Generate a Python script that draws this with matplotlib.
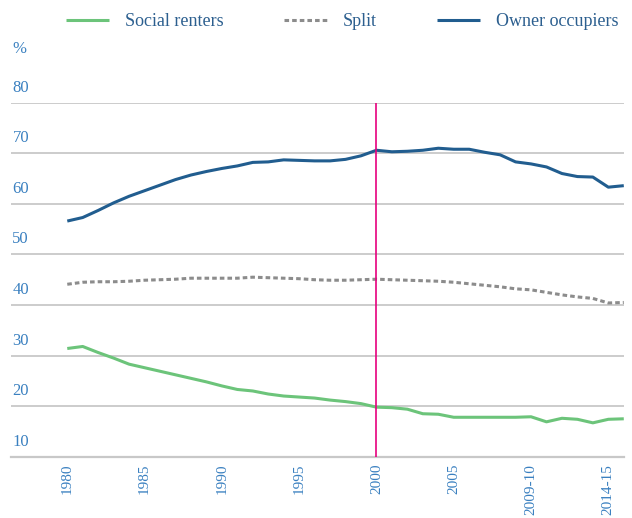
import matplotlib
matplotlib.use("Agg")
import matplotlib.pyplot as plt

# category labels along the x axis (one per survey year)
years = ["1980", "1981", "1982", "1983", "1984", "1985", "1986", "1987",
         "1988", "1989", "1990", "1991", "1992", "1993", "1994", "1995",
         "1996", "1997", "1998", "1999", "2000", "2001", "2002", "2003",
         "2004", "2005", "2006", "2007", "2008", "2008-09", "2009-10",
         "2010-11", "2011-12", "2012-13", "2013-14", "2014-15", "2015-16"]

social_renters = [31.4, 31.8, 30.6, 29.5, 28.3, 27.6, 26.9, 26.2, 25.5, 24.8,
                  24.0, 23.3, 23.0, 22.4, 22.0, 21.8, 21.6, 21.2, 20.9, 20.5,
                  19.8, 19.7, 19.4, 18.5, 18.4, 17.8, 17.8, 17.8, 17.8, 17.8,
                  17.9, 16.9, 17.6, 17.4, 16.7, 17.4, 17.5]
split = [44.1, 44.5, 44.6, 44.6, 44.7, 44.9, 45.0, 45.1, 45.3, 45.3,
         45.3, 45.3, 45.5, 45.4, 45.3, 45.2, 45.0, 44.9, 44.9, 45.0,
         45.1, 45.0, 44.9, 44.8, 44.7, 44.5, 44.2, 43.9, 43.6, 43.2,
         43.0, 42.5, 42.0, 41.6, 41.3, 40.4, 40.5]
owner_occupiers = [56.6, 57.3, 58.7, 60.2, 61.5, 62.6, 63.7, 64.8, 65.7, 66.4,
                   67.0, 67.5, 68.2, 68.3, 68.7, 68.6, 68.5, 68.5, 68.8, 69.5,
                   70.6, 70.3, 70.4, 70.6, 71.0, 70.8, 70.8, 70.2, 69.7, 68.3,
                   67.9, 67.3, 66.0, 65.4, 65.3, 63.3, 63.6]

yticks = [10, 20, 30, 40, 50, 60, 70, 80]
label_every = 5
marker_year = "2000"

tick_col = "#3a80c0"
text_col = "#2c5f8f"
serif = ["Liberation Serif", "DejaVu Serif"]

x = list(range(len(years)))

fig = plt.figure(figsize=(6.32, 5.18), dpi=100)
ax = fig.add_axes([0.0174, 0.1183, 0.9696, 0.6834])

ax.plot(x, social_renters, color="#6cc47a", lw=2.2, label="Social renters",
        solid_capstyle="butt")
ax.plot(x, split, color="#8c8c8c", lw=2.2, linestyle=(0, (1.5, 1.0)),
        label="Split")
ax.plot(x, owner_occupiers, color="#215d8f", lw=2.2, label="Owner occupiers",
        solid_capstyle="butt")

ax.axvline(years.index(marker_year), color="#e6007e", lw=1.2, zorder=3)

ax.set_xlim(-3.64, len(years) - 1)
ax.set_ylim(10, 80)

# grid
ax.set_yticks(yticks)
ax.yaxis.grid(True, color="#c8c8c8", lw=1.3)
ax.set_axisbelow(True)
ax.tick_params(axis="y", length=0, labelleft=False)
for s in ["top", "left", "right"]:
    ax.spines[s].set_visible(False)
ax.spines["bottom"].set_color("#c8c8c8")
ax.spines["bottom"].set_linewidth(1.6)

# y labels sit above their gridlines
for v in yticks:
    ax.annotate(str(v), xy=(0, v), xycoords=("axes fraction", "data"),
                xytext=(1, 5), textcoords="offset points", ha="left",
                va="bottom", color=tick_col, fontsize=12, family=serif)

tick_pos = x[::label_every]
ax.set_xticks(tick_pos)
ax.set_xticklabels([years[i] for i in tick_pos], rotation=90, color=tick_col,
                   fontsize=11, family=serif)
ax.tick_params(axis="x", length=0, pad=5)

fig.text(0.019, 0.905, "%", color=tick_col, fontsize=12, family=serif,
         va="center")

leg = fig.legend(loc="center left", bbox_to_anchor=(0.104, 0.958), ncol=3,
                 frameon=False, borderpad=0, borderaxespad=0,
                 handlelength=2.4, handletextpad=0.9, columnspacing=3.3,
                 prop={"family": serif, "size": 13})
for t in leg.get_texts():
    t.set_color(text_col)

fig.savefig("out.png", dpi=100)
